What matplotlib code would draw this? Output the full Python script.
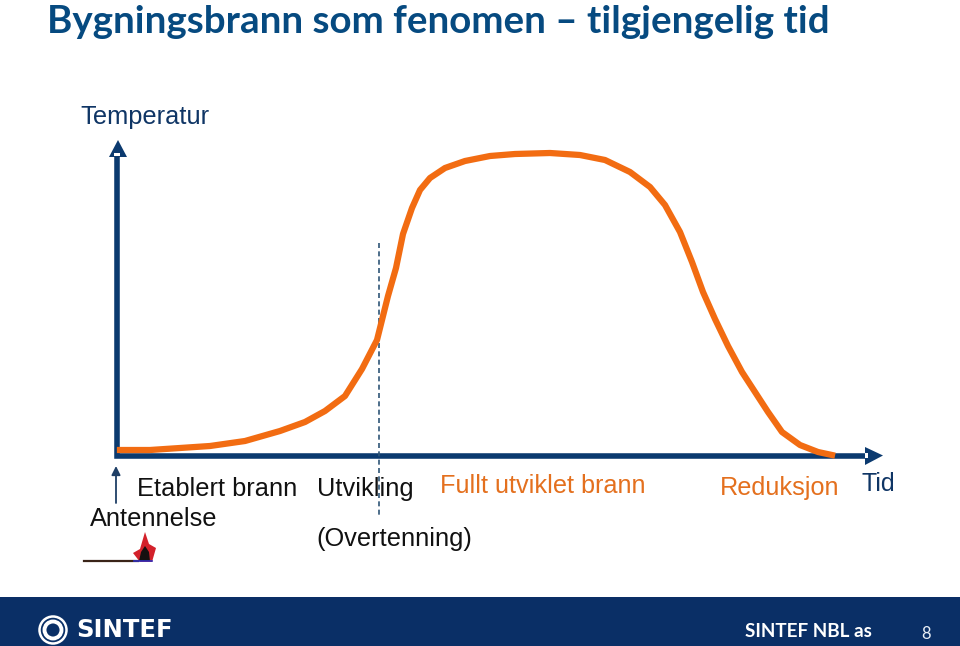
import matplotlib
matplotlib.use("Agg")
import matplotlib.pyplot as plt
from matplotlib.patches import Circle, Polygon, Rectangle

plt.rcParams['font.family'] = ['Liberation Sans', 'DejaVu Sans']

# fire curve (pixel coordinates, y down)
curve_x = [120, 150, 180, 210, 245, 280, 305, 325, 345, 362, 377, 388, 396, 403, 412, 420, 430, 445, 465, 490,
           515, 550, 580, 605, 630, 650, 665, 680, 692, 703, 715, 728, 742, 755, 768, 782, 800, 818, 832]
curve_y = [450, 450, 448, 446, 441, 431, 422, 411, 396, 369, 340, 296, 268, 234, 208, 190, 178, 168, 161, 156,
           154, 153, 155, 160, 172, 187, 205, 232, 262, 292, 319, 346, 372, 392, 412, 432, 445, 452, 455]

navy = '#0b3a6f'
orange = '#f26c12'
footer = '#0a2f66'

fig = plt.figure(figsize=(9.6, 6.46), dpi=100)
ax = fig.add_axes([0, 0, 1, 1])
ax.set_xlim(0, 960)
ax.set_ylim(646, 0)
ax.axis('off')

ax.text(47, 33, 'Bygningsbrann som fenomen – tilgjengelig tid', fontsize=27.7, color='#064a80',
        fontweight='bold', family=['Lato', 'DejaVu Sans'], va='baseline')
ax.text(80, 124, 'Temperatur', fontsize=18.3, color='#0f3565', va='baseline')

# axes arrows
ax.plot([117, 117, 868], [155, 455.5, 455.5], color=navy, lw=4, solid_joinstyle='miter', solid_capstyle='butt')
ax.add_patch(Polygon([[109, 157], [118, 140], [127, 157]], color=navy, lw=0))
ax.add_patch(Polygon([[865, 447], [883, 455.5], [865, 465]], color=navy, lw=0))
ax.add_patch(Rectangle((114, 153), 6, 3, color='white', lw=0, zorder=3))
ax.add_patch(Rectangle((865, 453), 3, 5, color='white', lw=0, zorder=3))

ax.plot([379, 379], [243, 518], color='#2f5577', lw=1.2, ls=(0, (3, 2)))
ax.plot(curve_x, curve_y, color=orange, lw=4.5, solid_joinstyle='round', zorder=4)

ax.annotate('', xy=(116, 466), xytext=(116, 503),
            arrowprops=dict(arrowstyle='-|>', color='#1f3f66', lw=1.3, shrinkA=0, shrinkB=0, mutation_scale=13))

ax.text(137, 496, 'Etablert brann', fontsize=18.3, color='#111111')
ax.text(317, 496, 'Utvikling', fontsize=18.3, color='#111111')
ax.text(90, 526, 'Antennelse', fontsize=18.3, color='#111111')
ax.text(316, 546, '(Overtenning)', fontsize=18.3, color='#111111')
ax.text(440, 493, 'Fullt utviklet brann', fontsize=18.2, color='#e4701e')
ax.text(720, 495, 'Reduksjon', fontsize=18.2, color='#e4701e')
ax.text(862, 491, 'Tid', fontsize=18, color='#0f3565')

# match and flame
ax.plot([84, 138], [560.5, 560.5], color='#3a2418', lw=1.6)
ax.plot([134, 152], [561, 561], color='#3030c0', lw=1.2)
ax.add_patch(Polygon([[133, 553], [140, 549], [145, 532], [149, 544], [156, 548], [152, 562], [140, 562]],
                     color='#d3212a', lw=0))
ax.add_patch(Polygon([[139, 561], [141, 552], [145, 546], [149, 552], [150, 561]], color='#151010', lw=0))

# footer band
ax.add_patch(Rectangle((0, 597), 960, 49, color=footer, lw=0))
ax.add_patch(Circle((53, 630), 13.5, fill=False, ec='white', lw=1.8))
ax.add_patch(Circle((53, 630), 8.5, fill=False, ec='white', lw=2.8))
ax.text(76, 637, 'SINTEF', fontsize=17.5, color='white', fontweight='bold', family=['DejaVu Sans'])
ax.text(745, 637, 'SINTEF NBL as', fontsize=13.6, color='white', fontweight='bold', family=['Lato', 'DejaVu Sans'])
ax.text(921, 639, '8', fontsize=12, color='#e8eef5', family=['Lato', 'DejaVu Sans'])

fig.savefig('out.png', dpi=100)
